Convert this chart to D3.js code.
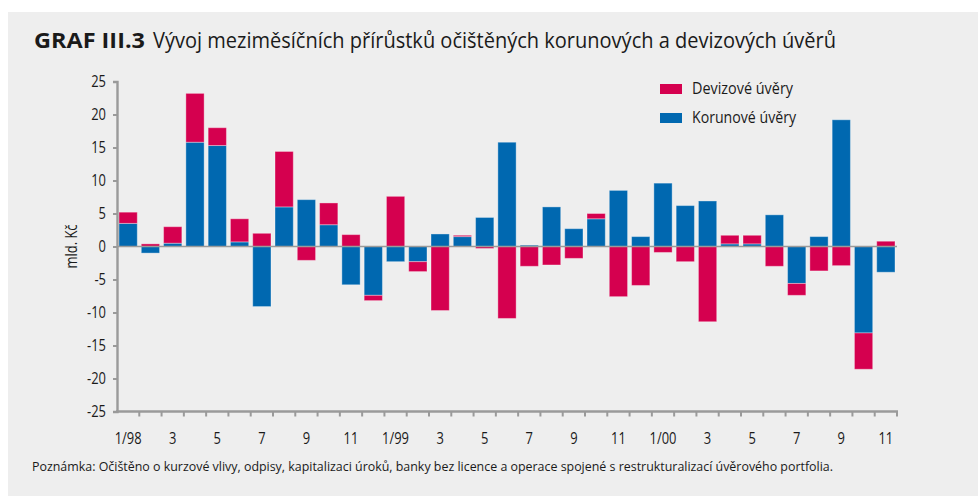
<!DOCTYPE html>
<html>
<head>
<meta charset="utf-8">
<script src="https://cdn.jsdelivr.net/npm/d3@7"></script>
<style>
  html, body { margin: 0; padding: 0; background: #ffffff; }
  svg { display: block; }
  text { font-family: "Open Sans", "DejaVu Sans", sans-serif; fill: #1a1a1a; }
</style>
</head>
<body>
<svg id="chart" width="978" height="496"></svg>
<script>
// ---- data ----
const categories = ["1/98","2/98","3/98","4/98","5/98","6/98","7/98","8/98","9/98","10/98","11/98","12/98",
                    "1/99","2/99","3/99","4/99","5/99","6/99","7/99","8/99","9/99","10/99","11/99","12/99",
                    "1/00","2/00","3/00","4/00","5/00","6/00","7/00","8/00","9/00","10/00","11/00"];
const korunove = [3.5,-1.0,0.5,15.8,15.3,0.7,-9.1,6.0,7.1,3.3,-5.8,-7.4,
                  -2.3,-2.3,1.9,1.5,4.4,15.8,0.2,6.0,2.7,4.2,8.5,1.5,
                  9.6,6.2,6.9,0.4,0.4,4.8,-5.6,1.5,19.2,-13.1,-3.9];
const devizove = [1.7,0.4,2.5,7.4,2.7,3.5,2.0,8.4,-2.1,3.3,1.8,-0.8,
                  7.6,-1.5,-9.7,0.2,-0.3,-10.9,-3.0,-2.8,-1.8,0.8,-7.6,-5.9,
                  -0.9,-2.3,-11.4,1.3,1.3,-3.0,-1.8,-3.7,-2.9,-5.5,0.8];
const tickLabels = {"1/98":"1/98","3/98":"3","5/98":"5","7/98":"7","9/98":"9","11/98":"11",
                    "1/99":"1/99","3/99":"3","5/99":"5","7/99":"7","9/99":"9","11/99":"11",
                    "1/00":"1/00","3/00":"3","5/00":"5","7/00":"7","9/00":"9","11/00":"11"};
const yTicks = [25,20,15,10,5,0,-5,-10,-15,-20,-25];
const seriesNames = ["Korunové úvěry","Devizové úvěry"];
const titleBold = "GRAF III.3";
const titleText = "Vývoj meziměsíčních přírůstků očištěných korunových a devizových úvěrů";
const noteText = "Poznámka: Očištěno o kurzové vlivy, odpisy, kapitalizaci úroků, banky bez licence a operace spojené s restrukturalizací úvěrového portfolia.";
const yLabel = "mld. Kč";

// ---- styling ----
const colors = {"Korunové úvěry":"#0068b0","Devizové úvěry":"#d5004f"};
const axisColor = "#9a9a9a";
const condense = 0.76;
function narrow(sel) {
  sel.each(function() {
    const w = this.getComputedTextLength();
    d3.select(this).attr("textLength", w * condense).attr("lengthAdjust", "spacingAndGlyphs");
  });
}

const svg = d3.select("#chart");
svg.append("rect").attr("x",8).attr("y",12).attr("width",970).attr("height",484).attr("fill","#eeeeee");

// title
svg.append("text").attr("x",34).attr("y",48).attr("font-size",21).attr("font-weight","bold")
   .attr("textLength",111).attr("lengthAdjust","spacingAndGlyphs").text(titleBold);
svg.append("text").attr("x",153).attr("y",48).attr("font-size",21)
   .attr("textLength",683).attr("lengthAdjust","spacingAndGlyphs").text(titleText);

// scales
const x = d3.scaleBand().domain(categories).range([117, 897]).paddingInner(0.18).paddingOuter(0.09);
const y = d3.scaleLinear().domain([-25, 25]).range([411.5, 81.5]);

const table = categories.map((c,i) => ({cat:c, "Korunové úvěry":korunove[i], "Devizové úvěry":devizove[i]}));
const stacked = d3.stack().keys(seriesNames).offset(d3.stackOffsetDiverging)(table);

// bars
const g = svg.append("g");
stacked.forEach(s => {
  g.selectAll(null).data(s).enter().append("rect")
    .attr("x", d => x(d.data.cat))
    .attr("width", x.bandwidth())
    .attr("y", d => y(Math.max(d[0], d[1])))
    .attr("height", d => Math.abs(y(d[0]) - y(d[1])))
    .attr("fill", colors[s.key])
    .attr("stroke", "rgba(255,255,255,0.35)")
    .attr("stroke-width", 1);
});

// zero line
svg.append("line").attr("x1",117).attr("x2",897).attr("y1",y(0)).attr("y2",y(0))
   .attr("stroke",axisColor).attr("stroke-width",1.6);

// y axis
const yAxis = svg.append("g").attr("transform","translate(117,0)")
  .call(d3.axisLeft(y).tickValues(yTicks).tickSize(4).tickPadding(7).tickFormat(d => String(d)));
yAxis.select(".domain").attr("stroke",axisColor).attr("stroke-width",2.4);
yAxis.selectAll(".tick line").attr("stroke",axisColor).attr("stroke-width",2);
yAxis.selectAll(".tick text").attr("font-size",17).attr("fill","#1a1a1a")
  .style("font-family",'"Open Sans", sans-serif').call(narrow);

// x axis
const xAxisG = svg.append("g").attr("transform",`translate(0,${y(-25)})`);
xAxisG.append("line").attr("x1",116).attr("x2",898).attr("y1",0).attr("y2",0)
  .attr("stroke",axisColor).attr("stroke-width",2.4);
const boundaries = categories.map(c => x(c) - x.step()*x.paddingInner()/2).slice(1);
boundaries.push(897);
xAxisG.selectAll(null).data(boundaries).enter().append("line")
  .attr("x1",d=>d).attr("x2",d=>d).attr("y1",0).attr("y2",5)
  .attr("stroke",axisColor).attr("stroke-width",2);
xAxisG.selectAll(null).data(categories.filter(c => tickLabels[c])).enter().append("text")
  .attr("x", c => x(c) + x.bandwidth()/2).attr("y", 32)
  .attr("text-anchor","middle").attr("font-size",17).text(c => tickLabels[c]).call(narrow);

// y label
svg.append("text").attr("transform",`translate(77,${y(0)}) rotate(-90)`)
  .attr("text-anchor","middle").attr("font-size",17).text(yLabel).call(narrow);

// legend
const legendItems = ["Devizové úvěry","Korunové úvěry"];
const lg = svg.append("g");
legendItems.forEach((k,i) => {
  lg.append("rect").attr("x",660).attr("y",84 + i*29).attr("width",22).attr("height",10).attr("fill",colors[k]);
  lg.append("text").attr("x",692).attr("y",94 + i*29).attr("font-size",17).text(k)
    .attr("textLength", i === 0 ? 101 : 104).attr("lengthAdjust","spacingAndGlyphs");
});

// note
svg.append("text").attr("x",32).attr("y",471).attr("font-size",13)
   .attr("textLength",801).attr("lengthAdjust","spacingAndGlyphs").text(noteText);
</script>
</body>
</html>
